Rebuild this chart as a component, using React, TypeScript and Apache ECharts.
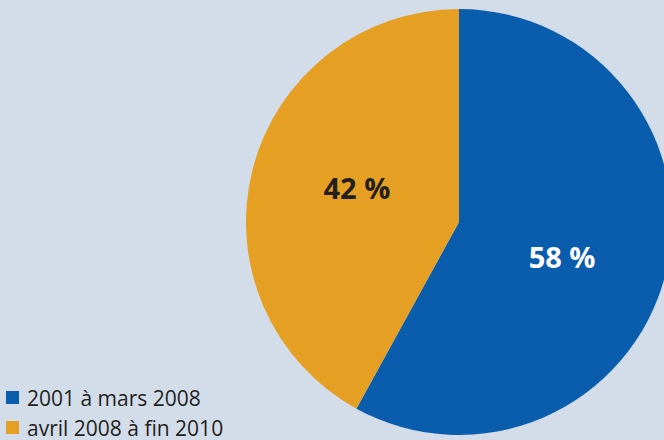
import React, { useEffect, useRef } from "react";
import * as echarts from "echarts";

const categories = ["2001 à mars 2008", "avril 2008 à fin 2010"];
const shares = [58, 42];
const colors = ["#0a5cad", "#e5a024"];
const labelColors = ["#ffffff", "#231f20"];
const labelShiftX = [-3, 4];
const labelShiftY = [7, -7];

export default function App() {
  const ref = useRef<HTMLDivElement>(null);
  useEffect(() => {
    if (!ref.current) return;
    const chart = echarts.init(ref.current, null, { renderer: "svg" });
    chart.setOption({
      animation: false,
      backgroundColor: "#d3dde9",
      legend: {
        orient: "vertical",
        left: 6,
        top: 387,
        height: 120,
        padding: 0,
        itemWidth: 13,
        itemHeight: 13,
        itemGap: 9,
        icon: "rect",
        data: categories,
        textStyle: {
          fontFamily: "Open Sans",
          fontSize: 21,
          lineHeight: 20,
          color: "#231f20",
          padding: [0, 0, 0, 3],
        },
      },
      series: [
        {
          type: "pie",
          center: [459, 222],
          radius: 213,
          startAngle: 90,
          clockwise: true,
          silent: true,
          label: {
            show: true,
            position: "inside",
            fontFamily: "Open Sans",
            fontWeight: "bold",
            fontSize: 29,
            formatter: (p: any) => p.value + " %",
          },
          labelLine: { show: false },
          labelLayout: (p: any) => ({
            dx: labelShiftX[p.dataIndex],
            dy: labelShiftY[p.dataIndex],
          }),
          data: categories.map((c, i) => ({
            name: c,
            value: shares[i],
            itemStyle: { color: colors[i], borderWidth: 0 },
            label: { color: labelColors[i] },
          })),
        },
      ],
    });
    return () => chart.dispose();
  }, []);
  return (
    <div
      ref={ref}
      style={{ position: "fixed", left: 0, top: 0, width: 664, height: 440 }}
    />
  );
}
